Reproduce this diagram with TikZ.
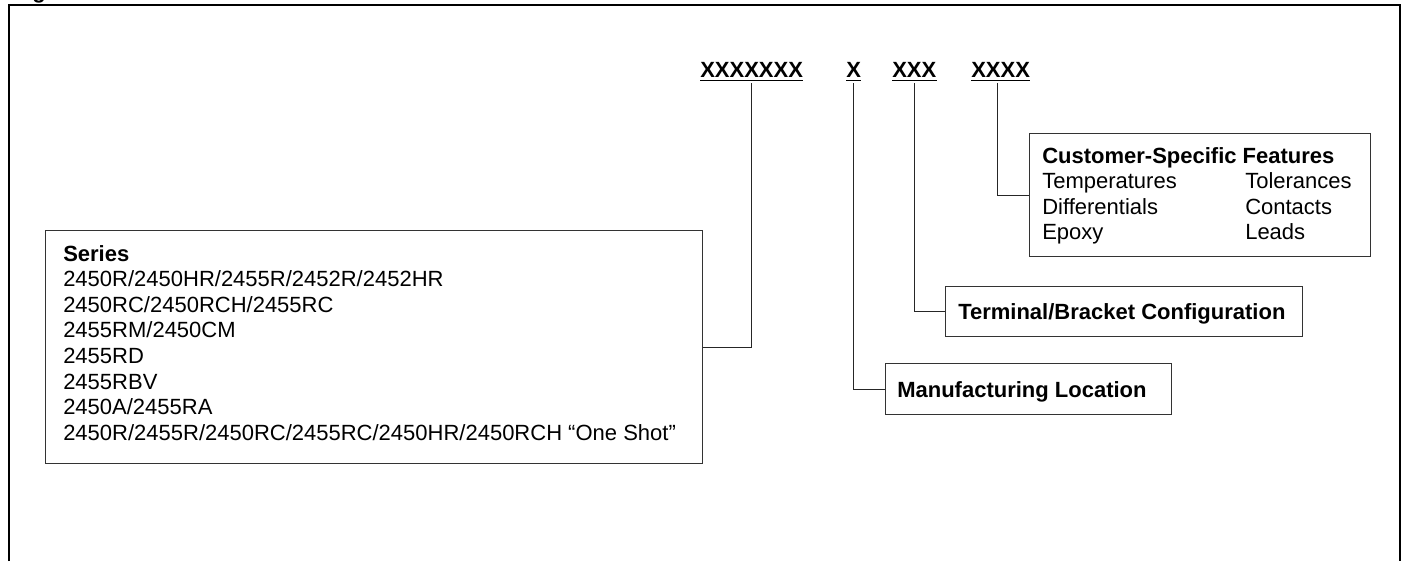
\documentclass[tikz,border=0pt]{standalone}
\usepackage{fontspec}
\setmainfont{Liberation Sans}
\begin{document}
\begin{tikzpicture}[x=0.75pt,y=-0.75pt,
  txt/.style={inner sep=0pt,anchor=base west,font=\fontsize{16.5pt}{19.2pt}\selectfont},
  btxt/.style={txt,font=\fontsize{16.5pt}{19.2pt}\selectfont\bfseries},
  hdr/.style={btxt},
  box/.style={draw=black!80,line width=1pt,rectangle,inner sep=0pt,anchor=north west},
  leader/.style={draw=black!85,line width=0.75pt},
  uline/.style={line width=1.1pt},
  frame/.style={line width=1.5pt}]
\useasboundingbox (0,0) rectangle (1403,561);
% outer frame
\draw[frame] (9,561) -- (9,5) -- (1400,5) -- (1400,561);
\node[btxt] (fig) at (32,-1.5) {g};
% headers
\node[hdr] (h1) at (700,77) {XXXXXXX};
\node[hdr] (h2) at (846,77) {X};
\node[hdr] (h3) at (892,77) {XXX};
\node[hdr] (h4) at (971,77) {XXXX};
\foreach \h in {h1,h2,h3,h4}
  \draw[uline] ([yshift=-2.6pt]\h.base west) -- ([yshift=-2.6pt]\h.base east);
% boxes
\node[box,minimum width=492.75pt,minimum height=174.75pt] (series) at (45,230) {};
\node[box,minimum width=255.75pt,minimum height=92.25pt] (csf) at (1029,133) {};
\node[box,minimum width=267.75pt,minimum height=37.5pt] (term) at (945,286) {};
\node[box,minimum width=214.5pt,minimum height=38.25pt] (manuf) at (885,363) {};
% series text
\node[btxt] (s0) at (63,261) {Series};
\node[txt] (s1) at (63,286.6) {2450R/2450HR/2455R/2452R/2452HR};
\node[txt] (s2) at (63,312.2) {2450RC/2450RCH/2455RC};
\node[txt] (s3) at (63,337.8) {2455RM/2450CM};
\node[txt] (s4) at (63,363.4) {2455RD};
\node[txt] (s5) at (63,389.0) {2455RBV};
\node[txt] (s6) at (63,414.6) {2450A/2455RA};
\node[txt] (s7) at (63,440.2) {2450R/2455R/2450RC/2455RC/2450HR/2450RCH “One Shot”};
% customer-specific text
\node[btxt] (c0) at (1042,163) {Customer-Specific Features};
\node[txt] (c1) at (1042,188.6) {Temperatures};
\node[txt] (c2) at (1042,214.2) {Differentials};
\node[txt] (c3) at (1042,239.8) {Epoxy};
\node[txt] (c4) at (1245,188.6) {Tolerances};
\node[txt] (c5) at (1245,214.2) {Contacts};
\node[txt] (c6) at (1245,239.8) {Leads};
% other labels
\node[btxt] (t0) at (958,319) {Terminal/Bracket Configuration};
\node[btxt] (m0) at (897,397) {Manufacturing Location};
% leaders
\draw[leader] ([yshift=-4.5pt]h1.south) |- (series.east);
\draw[leader] ([yshift=-4.5pt]h2.south) |- (manuf.west);
\draw[leader] ([yshift=-4.5pt]h3.south) |- (term.west);
\draw[leader] ([xshift=-2.2pt,yshift=-4.5pt]h4.south) |- (csf.west);
\end{tikzpicture}
\end{document}
